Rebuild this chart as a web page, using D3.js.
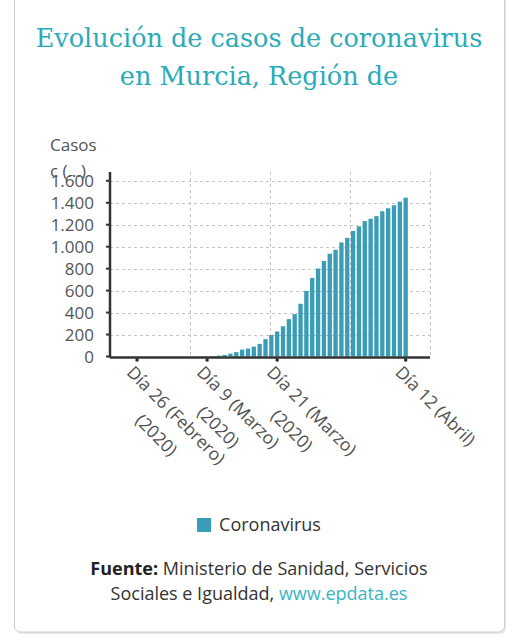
<!DOCTYPE html>
<html lang="es">
<head>
<meta charset="UTF-8">
<title>Evolución de casos de coronavirus en Murcia, Región de</title>
<script src="https://cdnjs.cloudflare.com/ajax/libs/d3/7.8.2/d3.min.js"></script>
<style>
  body { margin: 0; padding: 0; background: #ffffff; }
  svg { display: block; }
  .sans { font-family: "Open Sans", "Noto Sans", sans-serif; }
</style>
</head>
<body>
<svg width="529" height="640"></svg>
<script>
// datos: casos acumulados por día
const dates = [
  "2020-02-26","2020-02-27","2020-02-28","2020-02-29",
  "2020-03-01","2020-03-02","2020-03-03","2020-03-04","2020-03-05","2020-03-06","2020-03-07",
  "2020-03-08","2020-03-09","2020-03-10","2020-03-11","2020-03-12","2020-03-13","2020-03-14",
  "2020-03-15","2020-03-16","2020-03-17","2020-03-18","2020-03-19","2020-03-20","2020-03-21",
  "2020-03-22","2020-03-23","2020-03-24","2020-03-25","2020-03-26","2020-03-27","2020-03-28",
  "2020-03-29","2020-03-30","2020-03-31","2020-04-01","2020-04-02","2020-04-03","2020-04-04",
  "2020-04-05","2020-04-06","2020-04-07","2020-04-08","2020-04-09","2020-04-10","2020-04-11",
  "2020-04-12"
];
const casos = [
  0, 0, 0, 0,
  0, 0, 0, 0, 0, 0, 0,
  1, 2, 4, 8, 14, 26, 40,
  63, 72, 90, 115, 158, 195, 228,
  275, 340, 386, 480, 597, 714, 801,
  870, 936, 972, 1038, 1080, 1143, 1185,
  1233, 1254, 1278, 1323, 1350, 1377, 1410,
  1446
];
const tickDates = ["2020-02-26", "2020-03-09", "2020-03-21", "2020-04-12"];
const tickLabels = [
  ["Día 26 (Febrero)", "(2020)"],
  ["Día 9 (Marzo)", "(2020)"],
  ["Día 21 (Marzo)", "(2020)"],
  ["Día 12 (Abril)"]
];
const yTicks = [0, 200, 400, 600, 800, 1000, 1200, 1400, 1600];
const seriesName = "Coronavirus";

const barColor = "#3a9db8";
const teal = "#2aabb9";

const svg = d3.select("svg");
const parse = d3.utcParse("%Y-%m-%d");
const es = d3.formatLocale({ decimal: ",", thousands: ".", grouping: [3], currency: ["", "€"] });
const fmt = es.format(",");

// tarjeta
svg.append("rect")
  .attr("x", 16).attr("y", -10)
  .attr("width", 490).attr("height", 644)
  .attr("rx", 6)
  .attr("fill", "#e6e6e6");
svg.append("rect")
  .attr("x", 14.5).attr("y", -10)
  .attr("width", 490).attr("height", 642)
  .attr("rx", 6)
  .attr("fill", "#fff")
  .attr("stroke", "#cfcfcf");

const cx = 259;

// titulo
svg.append("text")
  .attr("x", cx).attr("text-anchor", "middle")
  .attr("font-family", "DejaVu Serif")
  .attr("font-size", 25.5)
  .attr("fill", teal)
  .selectAll("tspan")
  .data(["Evolución de casos de coronavirus", "en Murcia, Región de"])
  .join("tspan")
  .attr("x", cx)
  .attr("y", (d, i) => 47 + i * 38)
  .text(d => d);

// escalas
const x = d3.scaleUtc()
  .domain([Date.UTC(2020, 1, 21, 9), Date.UTC(2020, 3, 16, 4)])
  .range([110, 430]);
const y = d3.scaleLinear()
  .domain([0, 1680])
  .range([356.5, 172]);

const step = x(parse("2020-02-27")) - x(parse("2020-02-26"));
const bw = step * 0.74;

const [x0, x1] = x.range();
const [yb, yt] = y.range();

// rejilla
const grid = svg.append("g")
  .attr("stroke", "#c4c4c4")
  .attr("stroke-dasharray", "3,3")
  .attr("stroke-width", 1);
grid.selectAll("line.h")
  .data(yTicks.filter(d => d > 0))
  .join("line")
  .attr("class", "h")
  .attr("x1", x0).attr("x2", x1)
  .attr("y1", d => Math.round(y(d)) + 0.5)
  .attr("y2", d => Math.round(y(d)) + 0.5);
grid.selectAll("line.v")
  .data(d3.range(1, 5))
  .join("line")
  .attr("class", "v")
  .attr("x1", i => Math.round(x0 + i * (x1 - x0) / 4) + 0.5)
  .attr("x2", i => Math.round(x0 + i * (x1 - x0) / 4) + 0.5)
  .attr("y1", yt).attr("y2", yb);

// barras
svg.append("g")
  .selectAll("rect")
  .data(dates.map((d, i) => ({ date: parse(d), value: casos[i] })))
  .join("rect")
  .attr("x", d => x(d.date) - bw / 2)
  .attr("width", bw)
  .attr("y", d => y(d.value))
  .attr("height", d => yb - y(d.value))
  .attr("fill", barColor);

// eje y
const yAxis = svg.append("g").attr("class", "sans");
yAxis.append("line")
  .attr("x1", x0).attr("x2", x0)
  .attr("y1", yt).attr("y2", yb + 1)
  .attr("stroke", "#333").attr("stroke-width", 2.5);
yAxis.selectAll("line.t")
  .data(yTicks)
  .join("line")
  .attr("class", "t")
  .attr("x1", x0 - 4).attr("x2", x0)
  .attr("y1", d => y(d)).attr("y2", d => y(d))
  .attr("stroke", "#333").attr("stroke-width", 2);
yAxis.selectAll("text")
  .data(yTicks)
  .join("text")
  .attr("x", 94)
  .attr("y", d => y(d))
  .attr("dy", "0.36em")
  .attr("text-anchor", "end")
  .attr("font-size", 17)
  .attr("fill", "#555")
  .text(d => fmt(d));

svg.append("text")
  .attr("class", "sans")
  .attr("font-size", 17)
  .attr("fill", "#555")
  .selectAll("tspan")
  .data(["Casos", "c (...)"])
  .join("tspan")
  .attr("x", 50)
  .attr("y", (d, i) => 151 + i * 26)
  .text(d => d);

// eje x
const xAxis = svg.append("g").attr("class", "sans");
xAxis.append("line")
  .attr("x1", x0).attr("x2", x1)
  .attr("y1", yb + 1).attr("y2", yb + 1)
  .attr("stroke", "#333").attr("stroke-width", 2.5);
xAxis.selectAll("rect")
  .data(tickDates)
  .join("rect")
  .attr("x", d => x(parse(d)) - 1.5)
  .attr("y", yb + 2)
  .attr("width", 3).attr("height", 3)
  .attr("fill", "#222");

const lab = xAxis.selectAll("g.lab")
  .data(tickDates.map((d, i) => ({ date: parse(d), lines: tickLabels[i] })))
  .join("g")
  .attr("class", "lab")
  .attr("transform", d => `translate(${x(d.date)},${yb}) rotate(45)`);

lab.each(function (d) {
  const g = d3.select(this);
  const t = g.append("text")
    .attr("font-size", 17.5)
    .attr("fill", "#505050")
    .attr("text-anchor", "middle");
  const first = t.append("tspan").attr("x", 0).attr("y", 20).text(d.lines[0]);
  const w = first.node().getComputedTextLength();
  const mid = 4 + w / 2;
  first.attr("x", mid);
  d.lines.slice(1).forEach((s, k) => {
    t.append("tspan").attr("x", mid).attr("y", 20 + (k + 1) * 28).text(s);
  });
});

// leyenda
const leg = svg.append("g").attr("class", "sans");
const legText = leg.append("text")
  .attr("y", 531)
  .attr("font-size", 18)
  .attr("fill", "#333")
  .text(seriesName);
const lw = legText.node().getComputedTextLength();
const lx = cx - (lw + 22) / 2;
leg.append("rect")
  .attr("x", lx).attr("y", 518)
  .attr("width", 14).attr("height", 14)
  .attr("fill", barColor);
legText.attr("x", lx + 22);

// fuente
const src = svg.append("text")
  .attr("class", "sans")
  .attr("text-anchor", "middle")
  .attr("font-size", 18)
  .attr("fill", "#333");
const l1 = src.append("tspan").attr("x", cx).attr("y", 575);
l1.append("tspan").attr("font-weight", "bold").attr("fill", "#222").text("Fuente:");
l1.append("tspan").text(" Ministerio de Sanidad, Servicios");
const l2 = src.append("tspan").attr("x", cx).attr("y", 600);
l2.append("tspan").text("Sociales e Igualdad, ");
l2.append("tspan").attr("fill", "#3ab4c4").text("www.epdata.es");
</script>
</body>
</html>
